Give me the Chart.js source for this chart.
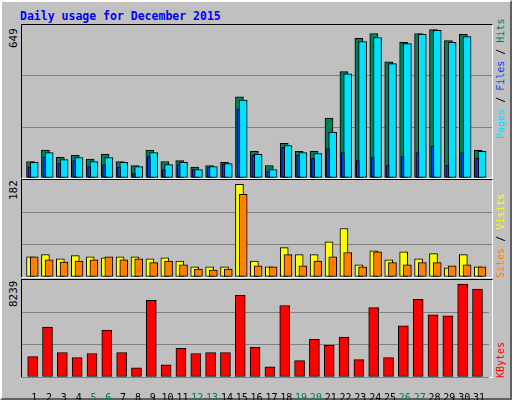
<!DOCTYPE html>
<html><head><meta charset="utf-8">
<script src="https://cdn.jsdelivr.net/npm/chart.js@4"></script>
<style>
body{margin:0;background:#c0c0c0;}
#frame{position:absolute;left:0;top:0;width:508px;height:396px;border-top:2px solid #fff;border-left:2px solid #fff;border-right:2px solid #606060;border-bottom:2px solid #606060;background:#c0c0c0;font-family:"DejaVu Sans Mono",monospace;}
.title{position:absolute;left:18px;top:7px;font-size:11.5px;font-weight:bold;color:#0000ff;}
.panel{position:absolute;left:19px;width:470px;border-top:1px solid #000;border-left:1px solid #000;border-right:1px solid #fff;border-bottom:1px solid #fff;}
canvas{position:absolute;}
.rot{position:absolute;transform-origin:0 0;transform:rotate(-90deg);font-size:10px;line-height:12px;white-space:nowrap;}
</style></head><body>
<div id="frame">
<div class="title">Daily usage for December 2015</div>
<div class="panel" style="top:22px;height:153px"></div>
<div class="panel" style="top:177px;height:97px"></div>
<div class="panel" style="top:277px;height:97px"></div>
<canvas id="c1" style="left:20px;top:23px;width:470px;height:153px"></canvas>
<canvas id="c2" style="left:20px;top:178px;width:470px;height:97px"></canvas>
<canvas id="c3" style="left:20px;top:278px;width:470px;height:122px"></canvas>
<div class="rot" style="left:6px;top:46px;font-size:11px">649</div>
<div class="rot" style="left:6px;top:198px;font-size:11px">182</div>
<div class="rot" style="left:6px;top:305px;font-size:11px">8239</div>
<div class="rot" style="left:493px;top:137px"><span style="color:#00e0ff">Pages</span> / <span style="color:#0040ff">Files</span> / <span style="color:#00805c">Hits</span></div>
<div class="rot" style="left:493px;top:276px"><span style="color:#ff8000">Sites</span> / <span style="color:#ffff00">Visits</span></div>
<div class="rot" style="left:493px;top:376px"><span style="color:#ff0000">KBytes</span></div>
</div>
<script>
const days = Array.from({length: 31}, (_, i) => i + 1);
const weekend = [5, 6, 12, 13, 19, 20, 26, 27];
const hits  = [70,118,88,96,80,101,70,53,118,70,74,46,53,66,344,113,53,147,113,113,254,451,592,613,493,575,613,630,583,609,117];
const pages = [66,108,78,87,70,87,66,48,108,57,66,36,48,61,331,100,36,138,108,104,194,442,579,596,485,570,609,626,575,600,113];
const files = [46,88,61,74,48,57,46,19,91,36,57,36,44,60,292,96,27,130,96,83,125,108,74,87,53,91,108,134,53,108,83];
const visits = [38,42,34,40,38,36,38,38,34,36,30,19,19,19,174,30,19,55,42,42,66,91,23,49,32,47,34,44,17,42,19];
const sites  = [38,32,28,30,32,38,32,34,27,30,23,15,13,15,155,21,19,42,21,30,38,46,19,47,27,23,27,27,21,23,19];
const kbytes = [1734,4250,2081,1648,1995,3990,2081,780,6505,1040,2428,1995,2081,2081,6938,2515,867,6071,1388,3209,2689,3383,1474,5897,1648,4337,6591,5290,5204,7892,7459];
const maxes = [649, 182, 8239];

const xMin = 0.18, xMax = 31.67;

function series(values, shift) {
    return values.map((v, i) => ({x: days[i] + shift, y: v}));
}
function bar(values, shift, color, width, order) {
    return {data: series(values, shift), backgroundColor: color, borderColor: '#000',
        borderWidth: 1, barThickness: width, grouped: false, order: order, borderSkipped: false};
}
function makeChart(id, datasets, max, showX) {
    new Chart(document.getElementById(id), {
        type: 'bar',
        data: {datasets: datasets},
        options: {
            responsive: false, animation: false, maintainAspectRatio: false,
            layout: {padding: 0},
            plugins: {legend: {display: false}, tooltip: {enabled: false}},
            scales: {
                x: {
                    type: 'linear', min: xMin, max: xMax, display: showX, offset: false,
                    grid: {display: false}, border: {display: false},
                    afterBuildTicks: a => { a.ticks = days.map(d => ({value: d})); },
                    afterFit: a => { if (showX) a.height = 25; },
                    ticks: {
                        font: {family: 'DejaVu Sans Mono', size: 10},
                        color: c => weekend.includes(c.tick.value) ? '#00805c' : '#000',
                        maxRotation: 0, autoSkip: false, padding: 7
                    }
                },
                y: {
                    min: 0, max: max,
                    afterBuildTicks: a => { a.ticks = [0, max / 3, max * 2 / 3].map(v => ({value: v})); },
                    afterFit: a => { a.width = 0; },
                    ticks: {display: false},
                    grid: {color: '#808080', lineWidth: 1, drawTicks: false},
                    border: {display: false}
                }
            }
        }
    });
}
['c1', 'c2', 'c3'].forEach(id => {
    const c = document.getElementById(id);
    c.width = parseInt(c.style.width); c.height = parseInt(c.style.height);
});
makeChart('c1', [
    bar(hits, -0.25, '#00805c', 8, 3),
    bar(pages, 0, '#00e0ff', 8, 2),
    bar(files, -0.32, '#0040ff', 3, 1)
], maxes[0], false);
makeChart('c2', [
    bar(visits, -0.25, '#ffff00', 8, 2),
    bar(sites, 0, '#ff8000', 8, 1)
], maxes[1], false);
makeChart('c3', [
    bar(kbytes, -0.1, '#ff0000', 10, 1)
], maxes[2], true);
</script>
</body></html>
